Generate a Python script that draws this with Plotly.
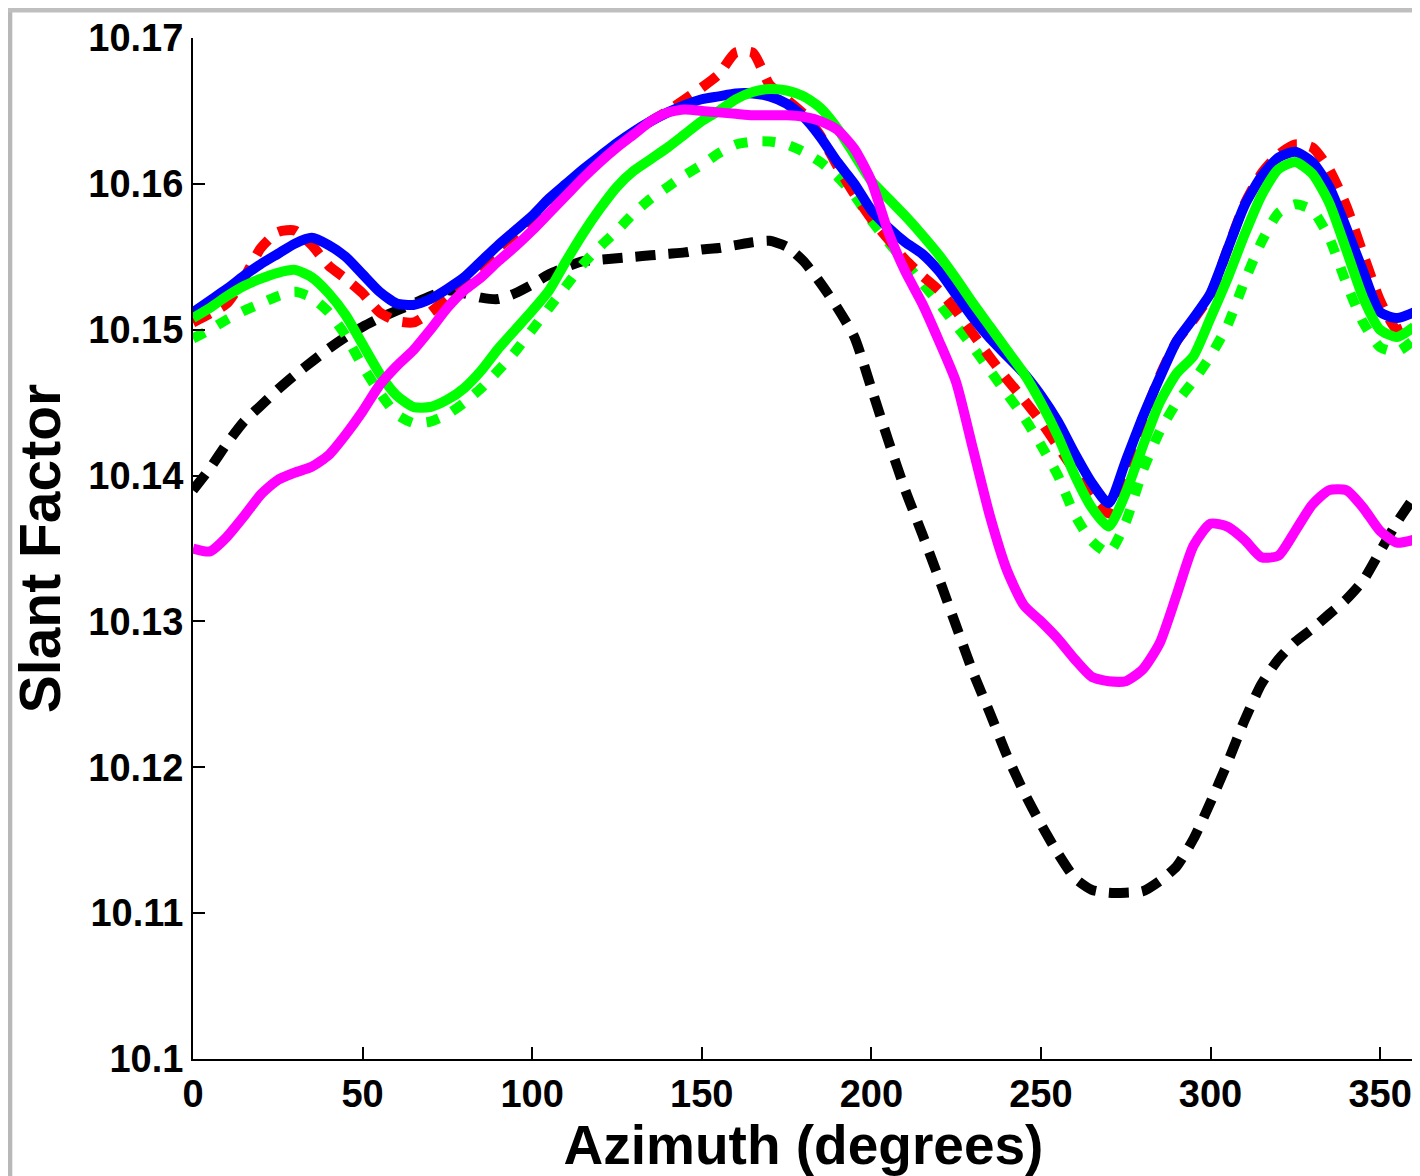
import plotly.graph_objects as go

# azimuth grid (degrees), one sample every 5 degrees
azimuth = list(range(0, 365, 5))

blue = [10.1512, 10.1520, 10.1528, 10.1537, 10.1545, 10.1552, 10.1559, 10.1563, 10.1558, 10.1550,
        10.1538, 10.1526, 10.1518, 10.1517, 10.1521, 10.1528, 10.1536, 10.1547, 10.1558, 10.1568,
        10.1578, 10.1590, 10.1600, 10.1610, 10.1619, 10.1628, 10.1636, 10.1643, 10.1649, 10.1654,
        10.1658, 10.1660, 10.1662, 10.1662, 10.1660, 10.1655, 10.1646, 10.1632, 10.1615, 10.1600,
        10.1582, 10.1570, 10.1560, 10.1552, 10.1540, 10.1524, 10.1508, 10.1494, 10.1482, 10.1470,
        10.1455, 10.1437, 10.1415, 10.1395, 10.1381, 10.1410, 10.1440, 10.1467, 10.1492, 10.1508,
        10.1525, 10.1555, 10.1585, 10.1605, 10.1618, 10.1622, 10.1615, 10.1598, 10.1570, 10.1540,
        10.1512, 10.1508, 10.1512]

red_dash = [10.1505, 10.1511, 10.1518, 10.1535, 10.1556, 10.1567, 10.1568, 10.1558, 10.1544, 10.1535,
            10.1525, 10.1512, 10.1506, 10.1505, 10.1512, 10.1522, 10.1534, 10.1545, 10.1556, 10.1566,
            10.1577, 10.1588, 10.1599, 10.1609, 10.1618, 10.1627, 10.1635, 10.1643, 10.1650, 10.1658,
            10.1666, 10.1675, 10.1690, 10.1690, 10.1668, 10.1658, 10.1648, 10.1633, 10.1612, 10.1593,
            10.1576, 10.1562, 10.1548, 10.1537, 10.1527, 10.1513, 10.1497, 10.1481, 10.1466, 10.1452,
            10.1437, 10.1420, 10.1403, 10.1385, 10.1374, 10.1405, 10.1438, 10.1468, 10.1492, 10.1507,
            10.1524, 10.1555, 10.1586, 10.1607, 10.1620, 10.1627, 10.1625, 10.1610, 10.1585, 10.1552,
            10.1520, 10.1500, 10.1505]

green = [10.1508, 10.1515, 10.1523, 10.1530, 10.1535, 10.1539, 10.1541, 10.1536, 10.1525, 10.1510,
         10.1490, 10.1470, 10.1455, 10.1447, 10.1447, 10.1452, 10.1460, 10.1472, 10.1487, 10.1500,
         10.1513, 10.1527, 10.1547, 10.1566, 10.1583, 10.1598, 10.1609, 10.1617, 10.1625, 10.1634,
         10.1643, 10.1650, 10.1658, 10.1663, 10.1665, 10.1664, 10.1660, 10.1652, 10.1638, 10.1620,
         10.1602, 10.1590, 10.1578, 10.1565, 10.1551, 10.1535, 10.1518, 10.1502, 10.1486, 10.1470,
         10.1450, 10.1427, 10.1400, 10.1378, 10.1365, 10.1388, 10.1420, 10.1450, 10.1470, 10.1482,
         10.1508, 10.1535, 10.1565, 10.1592, 10.1610, 10.1615, 10.1607, 10.1587, 10.1555, 10.1522,
         10.1500, 10.1495, 10.1502]

green_dot = [10.1494, 10.1500, 10.1507, 10.1513, 10.1518, 10.1523, 10.1526, 10.1522, 10.1512, 10.1496,
             10.1475, 10.1457, 10.1442, 10.1436, 10.1437, 10.1442, 10.1450, 10.1460, 10.1472, 10.1485,
             10.1500, 10.1515, 10.1530, 10.1545, 10.1557, 10.1568, 10.1580, 10.1590, 10.1598, 10.1606,
             10.1613, 10.1621, 10.1627, 10.1629, 10.1629, 10.1627, 10.1622, 10.1615, 10.1605, 10.1592,
             10.1575, 10.1560, 10.1546, 10.1532, 10.1518, 10.1503, 10.1488, 10.1472, 10.1456, 10.1440,
             10.1421, 10.1400, 10.1373, 10.1355, 10.1347, 10.1368, 10.1403, 10.1430, 10.1450, 10.1465,
             10.1482, 10.1503, 10.1533, 10.1560, 10.1580, 10.1586, 10.1582, 10.1563, 10.1532, 10.1505,
             10.1488, 10.1485, 10.1493]

magenta = [10.1350, 10.1348, 10.1358, 10.1372, 10.1387, 10.1397, 10.1402, 10.1406, 10.1414, 10.1428,
           10.1444, 10.1462, 10.1475, 10.1486, 10.1500, 10.1515, 10.1527, 10.1536, 10.1547, 10.1557,
           10.1568, 10.1580, 10.1592, 10.1604, 10.1615, 10.1625, 10.1634, 10.1643, 10.1649, 10.1651,
           10.1650, 10.1649, 10.1648, 10.1647, 10.1647, 10.1647, 10.1646, 10.1643, 10.1637, 10.1624,
           10.1602, 10.1567, 10.1540, 10.1518, 10.1492, 10.1464, 10.1418, 10.1372, 10.1335, 10.1311,
           10.1300, 10.1288, 10.1274, 10.1262, 10.1259, 10.1259, 10.1267, 10.1285, 10.1318, 10.1352,
           10.1367, 10.1365, 10.1356, 10.1344, 10.1345, 10.1362, 10.1380, 10.1390, 10.1390, 10.1378,
           10.1362, 10.1354, 10.1356]

black_dash = [10.1390, 10.1405, 10.1422, 10.1437, 10.1448, 10.1459, 10.1469, 10.1478, 10.1487, 10.1495,
              10.1502, 10.1508, 10.1513, 10.1518, 10.1523, 10.1527, 10.1525, 10.1522, 10.1521, 10.1525,
              10.1531, 10.1538, 10.1543, 10.1547, 10.1548, 10.1549, 10.1550, 10.1551, 10.1552, 10.1553,
              10.1555, 10.1556, 10.1558, 10.1560, 10.1561, 10.1557, 10.1547, 10.1532, 10.1515, 10.1495,
              10.1460, 10.1424, 10.1390, 10.1360, 10.1329, 10.1297, 10.1265, 10.1237, 10.1208, 10.1183,
              10.1161, 10.1141, 10.1124, 10.1116, 10.1114, 10.1114, 10.1115, 10.1122, 10.1132, 10.1151,
              10.1176, 10.1203, 10.1232, 10.1257, 10.1274, 10.1286, 10.1295, 10.1305, 10.1315, 10.1328,
              10.1348, 10.1368, 10.1385]

x_ticks = [0, 50, 100, 150, 200, 250, 300, 350]
y_ticks = [10.10, 10.11, 10.12, 10.13, 10.14, 10.15, 10.16, 10.17]
y_tick_labels = ["10.1", "10.11", "10.12", "10.13", "10.14", "10.15", "10.16", "10.17"]

FONT = "Liberation Sans, Arial, Helvetica, sans-serif"
LW = 10

fig = go.Figure()

# bottom to top, as stacked in the original
series = [
    (black_dash, "black", "20px,13px"),
    (green_dot, "#00ff00", "13px,15px"),
    (red_dash, "#ff0000", "19px,13px"),
    (blue, "#0000ff", "solid"),
    (green, "#00ff00", "solid"),
    (magenta, "#ff00ff", "solid"),
]
for vals, color, dash in series:
    fig.add_trace(go.Scatter(
        x=azimuth, y=vals, mode="lines",
        line=dict(color=color, width=LW, dash=dash, shape="spline", smoothing=0.6),
        showlegend=False, hoverinfo="skip",
    ))

axis_common = dict(
    showgrid=False, zeroline=False, showline=True, linecolor="black", linewidth=2,
    ticks="inside", ticklen=12, tickwidth=2, tickcolor="black",
    tickfont=dict(family=FONT, size=38, color="black", weight="bold"),
)

fig.update_xaxes(
    range=[0, 360], tickvals=x_ticks, **axis_common,
    title=dict(text="Azimuth (degrees)", standoff=4,
               font=dict(family=FONT, size=55, color="black", weight="bold")),
)
fig.update_yaxes(
    range=[10.1, 10.17], tickvals=y_ticks, ticktext=y_tick_labels, **axis_common,
    title=dict(text="Slant Factor", standoff=10,
               font=dict(family=FONT, size=57, color="black", weight="bold")),
)

# thin grey window frame along the top and left edges of the figure
fig.add_shape(type="rect", xref="paper", yref="paper", x0=-0.153, x1=-0.148, y0=-0.2, y1=1.04,
              fillcolor="#b8b8b8", line_width=0, layer="above")
fig.add_shape(type="rect", xref="paper", yref="paper", x0=-0.16, x1=1.01, y0=1.025, y1=1.04,
              fillcolor="#bfbfbf", line_width=0, layer="above")

# the page body has an 8px margin, so the figure is 8px smaller and margins shifted
fig.update_layout(
    width=1412, height=1168,
    margin=dict(l=185, r=6, t=30, b=117),
    plot_bgcolor="white", paper_bgcolor="white",
)

fig.write_html("out.html")
